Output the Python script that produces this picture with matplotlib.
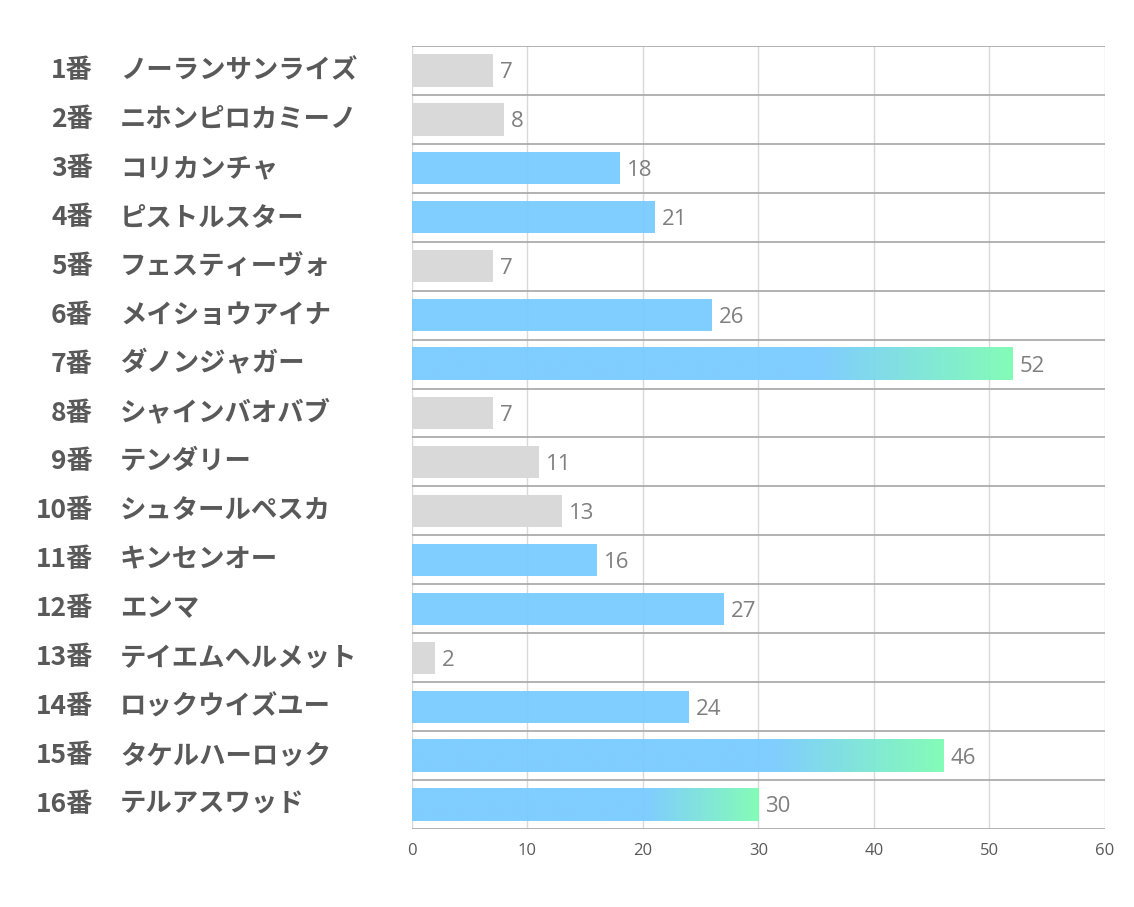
import numpy as np
import matplotlib.pyplot as plt
from matplotlib.colors import LinearSegmentedColormap

plt.rcParams['font.family'] = ['Noto Sans CJK JP', 'DejaVu Sans']

# --- data ---
numbers = ['1番', '2番', '3番', '4番', '5番', '6番', '7番', '8番',
           '9番', '10番', '11番', '12番', '13番', '14番', '15番', '16番']
horses = ['ノーランサンライズ', 'ニホンピロカミーノ', 'コリカンチャ', 'ピストルスター',
          'フェスティーヴォ', 'メイショウアイナ', 'ダノンジャガー', 'シャインバオバブ',
          'テンダリー', 'シュタールペスカ', 'キンセンオー', 'エンマ',
          'テイエムヘルメット', 'ロックウイズユー', 'タケルハーロック', 'テルアスワッド']
values = [7, 8, 18, 21, 7, 26, 52, 7, 11, 13, 16, 27, 2, 24, 46, 30]
# g = gray, b = blue, gr = blue with green gradient tail
kinds = ['g', 'g', 'b', 'b', 'g', 'b', 'gr', 'g',
         'g', 'g', 'b', 'b', 'g', 'b', 'gr', 'gr']

GRAY = '#D9D9D9'
BLUE = '#79CBFF'
GREEN = '#7DFCB4'
TEXT = '#595959'

fig = plt.figure(figsize=(11.34, 9.07), dpi=100)
ax = fig.add_axes([0.3633, 0.0860, 0.6111, 0.8633])

n = len(values)
ys = np.arange(n)
bar_h = 0.66

ax.set_xlim(0, 60)
ax.set_ylim(n - 0.5, -0.5)

# grid
for x in range(0, 61, 10):
    ax.axvline(x, color='#D9D9D9', lw=1, zorder=0)
for y in np.arange(-0.5, n, 1):
    ax.axhline(y, color='#A6A6A6', lw=1.2, zorder=1)

cmap = LinearSegmentedColormap.from_list('bg', [(0, BLUE), (0.68, BLUE), (1, GREEN)])
grad = np.linspace(0, 1, 256).reshape(1, -1)

for y, v, k in zip(ys, values, kinds):
    if k == 'g':
        ax.barh(y, v, height=bar_h, color=GRAY, zorder=2)
    elif k == 'b':
        ax.barh(y, v, height=bar_h, color=BLUE, alpha=0.95, zorder=2)
    else:
        ax.imshow(grad, cmap=cmap, aspect='auto', alpha=0.95,
                  extent=(0, v, y + bar_h / 2, y - bar_h / 2), zorder=2)
    ax.text(v + 0.6, y + 0.05, str(v), va='center', ha='left',
            fontsize=16, color='#7F7F7F', family=['Open Sans', 'DejaVu Sans'])

ax.set_ylim(n - 0.5, -0.5)
ax.set_xlim(0, 60)

ax.set_yticks([])
ax.set_xticks(range(0, 61, 10))
ax.tick_params(axis='x', length=0, pad=10, labelsize=12, labelcolor='#595959')
for lbl in ax.get_xticklabels():
    lbl.set_family(['Open Sans', 'DejaVu Sans'])
for s in ax.spines.values():
    s.set_visible(False)

# row labels
for y, num, name in zip(ys, numbers, horses):
    yf = ax.transData.transform((0, y))[1] / fig.bbox.height
    fig.text(93 / 1134, yf, num, ha='right', va='center', fontsize=19,
             fontweight='bold', color=TEXT)
    fig.text(120 / 1134, yf, name, ha='left', va='center', fontsize=19,
             fontweight='bold', color=TEXT)

fig.savefig('out.png', dpi=100)
